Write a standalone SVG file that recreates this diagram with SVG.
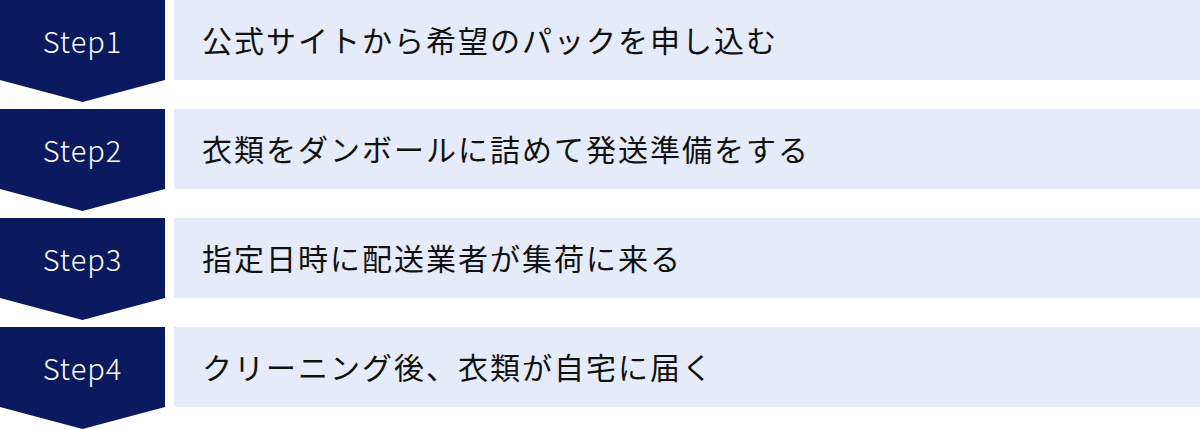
<svg xmlns="http://www.w3.org/2000/svg" width="1200" height="429" viewBox="0 0 1200 429">
  <defs>
    <style>
      .badge { fill: #0b195e; }
      .bar { fill: #e5ebf8; }
      .step { font-family: "Noto Sans CJK JP", "Noto Sans", sans-serif; font-size: 29px; font-weight: 300; fill: #ffffff; text-anchor: middle; letter-spacing: 1px; }
      .label { font-family: "Noto Sans CJK JP", "Noto Sans", sans-serif; font-size: 30px; font-weight: 400; fill: #111111; letter-spacing: 2px; }
    </style>
    <polygon id="chev" points="0,0 165,0 165,80 82.5,102 0,80"/>
  </defs>
  <g id="step1">
    <use href="#chev" class="badge" x="0" y="0"/>
    <rect class="bar" x="174" y="0" width="1026" height="80"/>
    <text class="step" x="82.5" y="53">Step1</text>
    <text class="label" x="202" y="51.5">公式サイトから希望のパックを申し込む</text>
  </g>
  <g id="step2">
    <use href="#chev" class="badge" x="0" y="109"/>
    <rect class="bar" x="174" y="109" width="1026" height="80"/>
    <text class="step" x="82.5" y="162">Step2</text>
    <text class="label" x="202" y="160.5">衣類をダンボールに詰めて発送準備をする</text>
  </g>
  <g id="step3">
    <use href="#chev" class="badge" x="0" y="218"/>
    <rect class="bar" x="174" y="218" width="1026" height="80"/>
    <text class="step" x="82.5" y="271">Step3</text>
    <text class="label" x="202" y="269.5">指定日時に配送業者が集荷に来る</text>
  </g>
  <g id="step4">
    <use href="#chev" class="badge" x="0" y="327"/>
    <rect class="bar" x="174" y="327" width="1026" height="80"/>
    <text class="step" x="82.5" y="380">Step4</text>
    <text class="label" x="202" y="378.5">クリーニング後、衣類が自宅に届く</text>
  </g>
  <g id="connectors"></g>
</svg>
